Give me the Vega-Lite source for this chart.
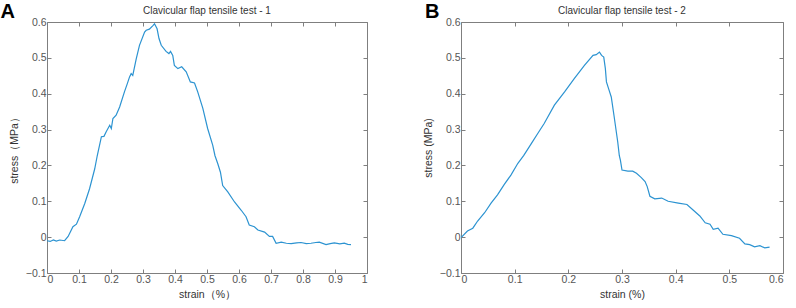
{
  "$schema": "https://vega.github.io/schema/vega-lite/v6.json",
  "padding": {"left": 0, "top": 1, "right": 5, "bottom": 2},
  "background": "white",
  "config": {
    "font": "Liberation Sans",
    "view": {"stroke": "#7f7f7f", "strokeWidth": 1},
    "axis": {
      "grid": false,
      "domain": false,
      "tickSize": -4,
      "tickColor": "#7f7f7f",
      "labelFont": "Liberation Sans",
      "labelFontSize": 10.5,
      "labelColor": "#555555",
      "titleFont": "Liberation Sans",
      "titleFontSize": 10.5,
      "titleFontWeight": "normal",
      "titleColor": "#333333",
      "labelPadding": 5
    },
    "title": {"font": "Liberation Sans", "fontSize": 10, "fontWeight": "normal", "color": "#333333", "offset": -14}
  },
  "datasets": {
    "t1": [
      {"strain": 0.0, "stress": -0.01}, {"strain": 0.01, "stress": -0.012}, {"strain": 0.02, "stress": -0.008}, {"strain": 0.029, "stress": -0.011},
      {"strain": 0.04, "stress": -0.008}, {"strain": 0.055, "stress": -0.01}, {"strain": 0.066, "stress": 0.002},
      {"strain": 0.081, "stress": 0.029}, {"strain": 0.092, "stress": 0.036}, {"strain": 0.102, "stress": 0.057},
      {"strain": 0.118, "stress": 0.094}, {"strain": 0.133, "stress": 0.135}, {"strain": 0.149, "stress": 0.19},
      {"strain": 0.157, "stress": 0.227}, {"strain": 0.17, "stress": 0.28}, {"strain": 0.178, "stress": 0.281},
      {"strain": 0.185, "stress": 0.294}, {"strain": 0.196, "stress": 0.312}, {"strain": 0.201, "stress": 0.303},
      {"strain": 0.206, "stress": 0.331}, {"strain": 0.216, "stress": 0.34}, {"strain": 0.227, "stress": 0.363},
      {"strain": 0.242, "stress": 0.405}, {"strain": 0.251, "stress": 0.428}, {"strain": 0.258, "stress": 0.447},
      {"strain": 0.263, "stress": 0.456}, {"strain": 0.268, "stress": 0.451}, {"strain": 0.279, "stress": 0.498},
      {"strain": 0.289, "stress": 0.535}, {"strain": 0.305, "stress": 0.572}, {"strain": 0.31, "stress": 0.577},
      {"strain": 0.32, "stress": 0.58}, {"strain": 0.331, "stress": 0.59}, {"strain": 0.336, "stress": 0.595},
      {"strain": 0.344, "stress": 0.581}, {"strain": 0.35, "stress": 0.554}, {"strain": 0.357, "stress": 0.535},
      {"strain": 0.372, "stress": 0.518}, {"strain": 0.381, "stress": 0.512}, {"strain": 0.386, "stress": 0.518},
      {"strain": 0.393, "stress": 0.507}, {"strain": 0.398, "stress": 0.479}, {"strain": 0.409, "stress": 0.47},
      {"strain": 0.421, "stress": 0.475}, {"strain": 0.435, "stress": 0.461}, {"strain": 0.448, "stress": 0.433},
      {"strain": 0.461, "stress": 0.43}, {"strain": 0.471, "stress": 0.405}, {"strain": 0.487, "stress": 0.359},
      {"strain": 0.502, "stress": 0.303}, {"strain": 0.518, "stress": 0.256}, {"strain": 0.525, "stress": 0.227},
      {"strain": 0.534, "stress": 0.204}, {"strain": 0.542, "stress": 0.181}, {"strain": 0.549, "stress": 0.144},
      {"strain": 0.565, "stress": 0.126}, {"strain": 0.586, "stress": 0.098}, {"strain": 0.607, "stress": 0.075},
      {"strain": 0.622, "stress": 0.057}, {"strain": 0.632, "stress": 0.034}, {"strain": 0.648, "stress": 0.029},
      {"strain": 0.659, "stress": 0.02}, {"strain": 0.68, "stress": 0.014}, {"strain": 0.695, "stress": 0.002},
      {"strain": 0.705, "stress": 0.002}, {"strain": 0.716, "stress": -0.017}, {"strain": 0.732, "stress": -0.014},
      {"strain": 0.748, "stress": -0.017}, {"strain": 0.763, "stress": -0.018}, {"strain": 0.78, "stress": -0.016},
      {"strain": 0.794, "stress": -0.015}, {"strain": 0.81, "stress": -0.018}, {"strain": 0.825, "stress": -0.017},
      {"strain": 0.84, "stress": -0.015}, {"strain": 0.851, "stress": -0.014}, {"strain": 0.872, "stress": -0.021},
      {"strain": 0.885, "stress": -0.018}, {"strain": 0.898, "stress": -0.016}, {"strain": 0.915, "stress": -0.019},
      {"strain": 0.929, "stress": -0.017}, {"strain": 0.94, "stress": -0.02}, {"strain": 0.95, "stress": -0.021}
    ],
    "t2": [
      {"strain": 0.001, "stress": 0.0}, {"strain": 0.012, "stress": 0.017}, {"strain": 0.022, "stress": 0.025},
      {"strain": 0.031, "stress": 0.045}, {"strain": 0.044, "stress": 0.068}, {"strain": 0.056, "stress": 0.095},
      {"strain": 0.068, "stress": 0.118}, {"strain": 0.081, "stress": 0.148}, {"strain": 0.093, "stress": 0.173},
      {"strain": 0.106, "stress": 0.206}, {"strain": 0.117, "stress": 0.228}, {"strain": 0.131, "stress": 0.261},
      {"strain": 0.143, "stress": 0.289}, {"strain": 0.155, "stress": 0.317}, {"strain": 0.174, "stress": 0.368},
      {"strain": 0.193, "stress": 0.405}, {"strain": 0.211, "stress": 0.442}, {"strain": 0.23, "stress": 0.479},
      {"strain": 0.246, "stress": 0.507}, {"strain": 0.252, "stress": 0.509}, {"strain": 0.258, "stress": 0.516},
      {"strain": 0.262, "stress": 0.507}, {"strain": 0.266, "stress": 0.502}, {"strain": 0.269, "stress": 0.47},
      {"strain": 0.271, "stress": 0.433}, {"strain": 0.275, "stress": 0.414}, {"strain": 0.28, "stress": 0.391},
      {"strain": 0.285, "stress": 0.34}, {"strain": 0.292, "stress": 0.266}, {"strain": 0.295, "stress": 0.227},
      {"strain": 0.297, "stress": 0.215}, {"strain": 0.3, "stress": 0.187}, {"strain": 0.311, "stress": 0.184},
      {"strain": 0.32, "stress": 0.184}, {"strain": 0.327, "stress": 0.178}, {"strain": 0.336, "stress": 0.166},
      {"strain": 0.343, "stress": 0.155}, {"strain": 0.347, "stress": 0.141}, {"strain": 0.352, "stress": 0.114},
      {"strain": 0.361, "stress": 0.107}, {"strain": 0.374, "stress": 0.109}, {"strain": 0.386, "stress": 0.1},
      {"strain": 0.405, "stress": 0.095}, {"strain": 0.421, "stress": 0.091}, {"strain": 0.433, "stress": 0.075},
      {"strain": 0.445, "stress": 0.059}, {"strain": 0.455, "stress": 0.04}, {"strain": 0.464, "stress": 0.036},
      {"strain": 0.47, "stress": 0.022}, {"strain": 0.479, "stress": 0.025}, {"strain": 0.488, "stress": 0.008},
      {"strain": 0.504, "stress": 0.004}, {"strain": 0.519, "stress": -0.003}, {"strain": 0.529, "stress": -0.019},
      {"strain": 0.538, "stress": -0.021}, {"strain": 0.547, "stress": -0.027}, {"strain": 0.557, "stress": -0.024},
      {"strain": 0.566, "stress": -0.03}, {"strain": 0.575, "stress": -0.028}
    ]
  },
  "hconcat": [
    {
      "width": 320,
      "height": 251,
      "title": {"text": "Clavicular flap tensile test - 1"},
      "layer": [
        {
          "data": {"name": "t1"},
          "mark": {"type": "line", "color": "#2c93d1", "strokeWidth": 1.2},
          "encoding": {
            "x": {"field": "strain", "type": "quantitative", "scale": {"domain": [0, 1], "nice": false},
                  "axis": {"orient": "bottom", "values": [0, 0.1, 0.2, 0.3, 0.4, 0.5, 0.6, 0.7, 0.8, 0.9, 1], "format": ".1~f", "title": "strain（%）", "titlePadding": 5}},
            "y": {"field": "stress", "type": "quantitative", "scale": {"domain": [-0.1, 0.6], "nice": false, "zero": false},
                  "axis": {"orient": "left", "values": [-0.1, 0, 0.1, 0.2, 0.3, 0.4, 0.5, 0.6], "format": ".1~f", "title": "stress（MPa）", "titlePadding": 6}}
          }
        },
        {
          "data": {"name": "t1"},
          "mark": {"type": "line", "strokeOpacity": 0},
          "encoding": {
            "x": {"field": "strain", "type": "quantitative", "axis": {"orient": "top", "values": [0, 0.1, 0.2, 0.3, 0.4, 0.5, 0.6, 0.7, 0.8, 0.9, 1], "labels": false, "title": null}},
            "y": {"field": "stress", "type": "quantitative", "axis": {"orient": "right", "values": [-0.1, 0, 0.1, 0.2, 0.3, 0.4, 0.5, 0.6], "labels": false, "title": null}}
          }
        },
        {
          "data": {"values": [{"label": "A"}]},
          "mark": {"type": "text", "font": "Liberation Sans", "fontSize": 20, "fontWeight": "bold", "align": "left", "baseline": "alphabetic", "color": "#000000"},
          "encoding": {
            "text": {"field": "label"},
            "x": {"datum": -0.145, "type": "quantitative", "axis": null},
            "y": {"datum": 0.61, "type": "quantitative", "axis": null}
          }
        }
      ],
      "resolve": {"axis": {"x": "independent", "y": "independent"}}
    },
    {
      "width": 322,
      "height": 251,
      "title": {"text": "Clavicular flap tensile test - 2"},
      "layer": [
        {
          "data": {"name": "t2"},
          "mark": {"type": "line", "color": "#2c93d1", "strokeWidth": 1.2},
          "encoding": {
            "x": {"field": "strain", "type": "quantitative", "scale": {"domain": [0, 0.6], "nice": false},
                  "axis": {"orient": "bottom", "values": [0, 0.1, 0.2, 0.3, 0.4, 0.5, 0.6], "format": ".1~f", "title": "strain (%)", "titlePadding": 5}},
            "y": {"field": "stress", "type": "quantitative", "scale": {"domain": [-0.1, 0.6], "nice": false, "zero": false},
                  "axis": {"orient": "left", "values": [-0.1, 0, 0.1, 0.2, 0.3, 0.4, 0.5, 0.6], "format": ".1~f", "title": "stress (MPa)", "titlePadding": 6}}
          }
        },
        {
          "data": {"name": "t2"},
          "mark": {"type": "line", "strokeOpacity": 0},
          "encoding": {
            "x": {"field": "strain", "type": "quantitative", "axis": {"orient": "top", "values": [0, 0.1, 0.2, 0.3, 0.4, 0.5, 0.6], "labels": false, "title": null}},
            "y": {"field": "stress", "type": "quantitative", "axis": {"orient": "right", "values": [-0.1, 0, 0.1, 0.2, 0.3, 0.4, 0.5, 0.6], "labels": false, "title": null}}
          }
        },
        {
          "data": {"values": [{"label": "B"}]},
          "mark": {"type": "text", "font": "Liberation Sans", "fontSize": 20, "fontWeight": "bold", "align": "left", "baseline": "alphabetic", "color": "#000000"},
          "encoding": {
            "text": {"field": "label"},
            "x": {"datum": -0.067, "type": "quantitative", "axis": null},
            "y": {"datum": 0.61, "type": "quantitative", "axis": null}
          }
        }
      ],
      "resolve": {"axis": {"x": "independent", "y": "independent"}}
    }
  ],
  "spacing": 54
}
